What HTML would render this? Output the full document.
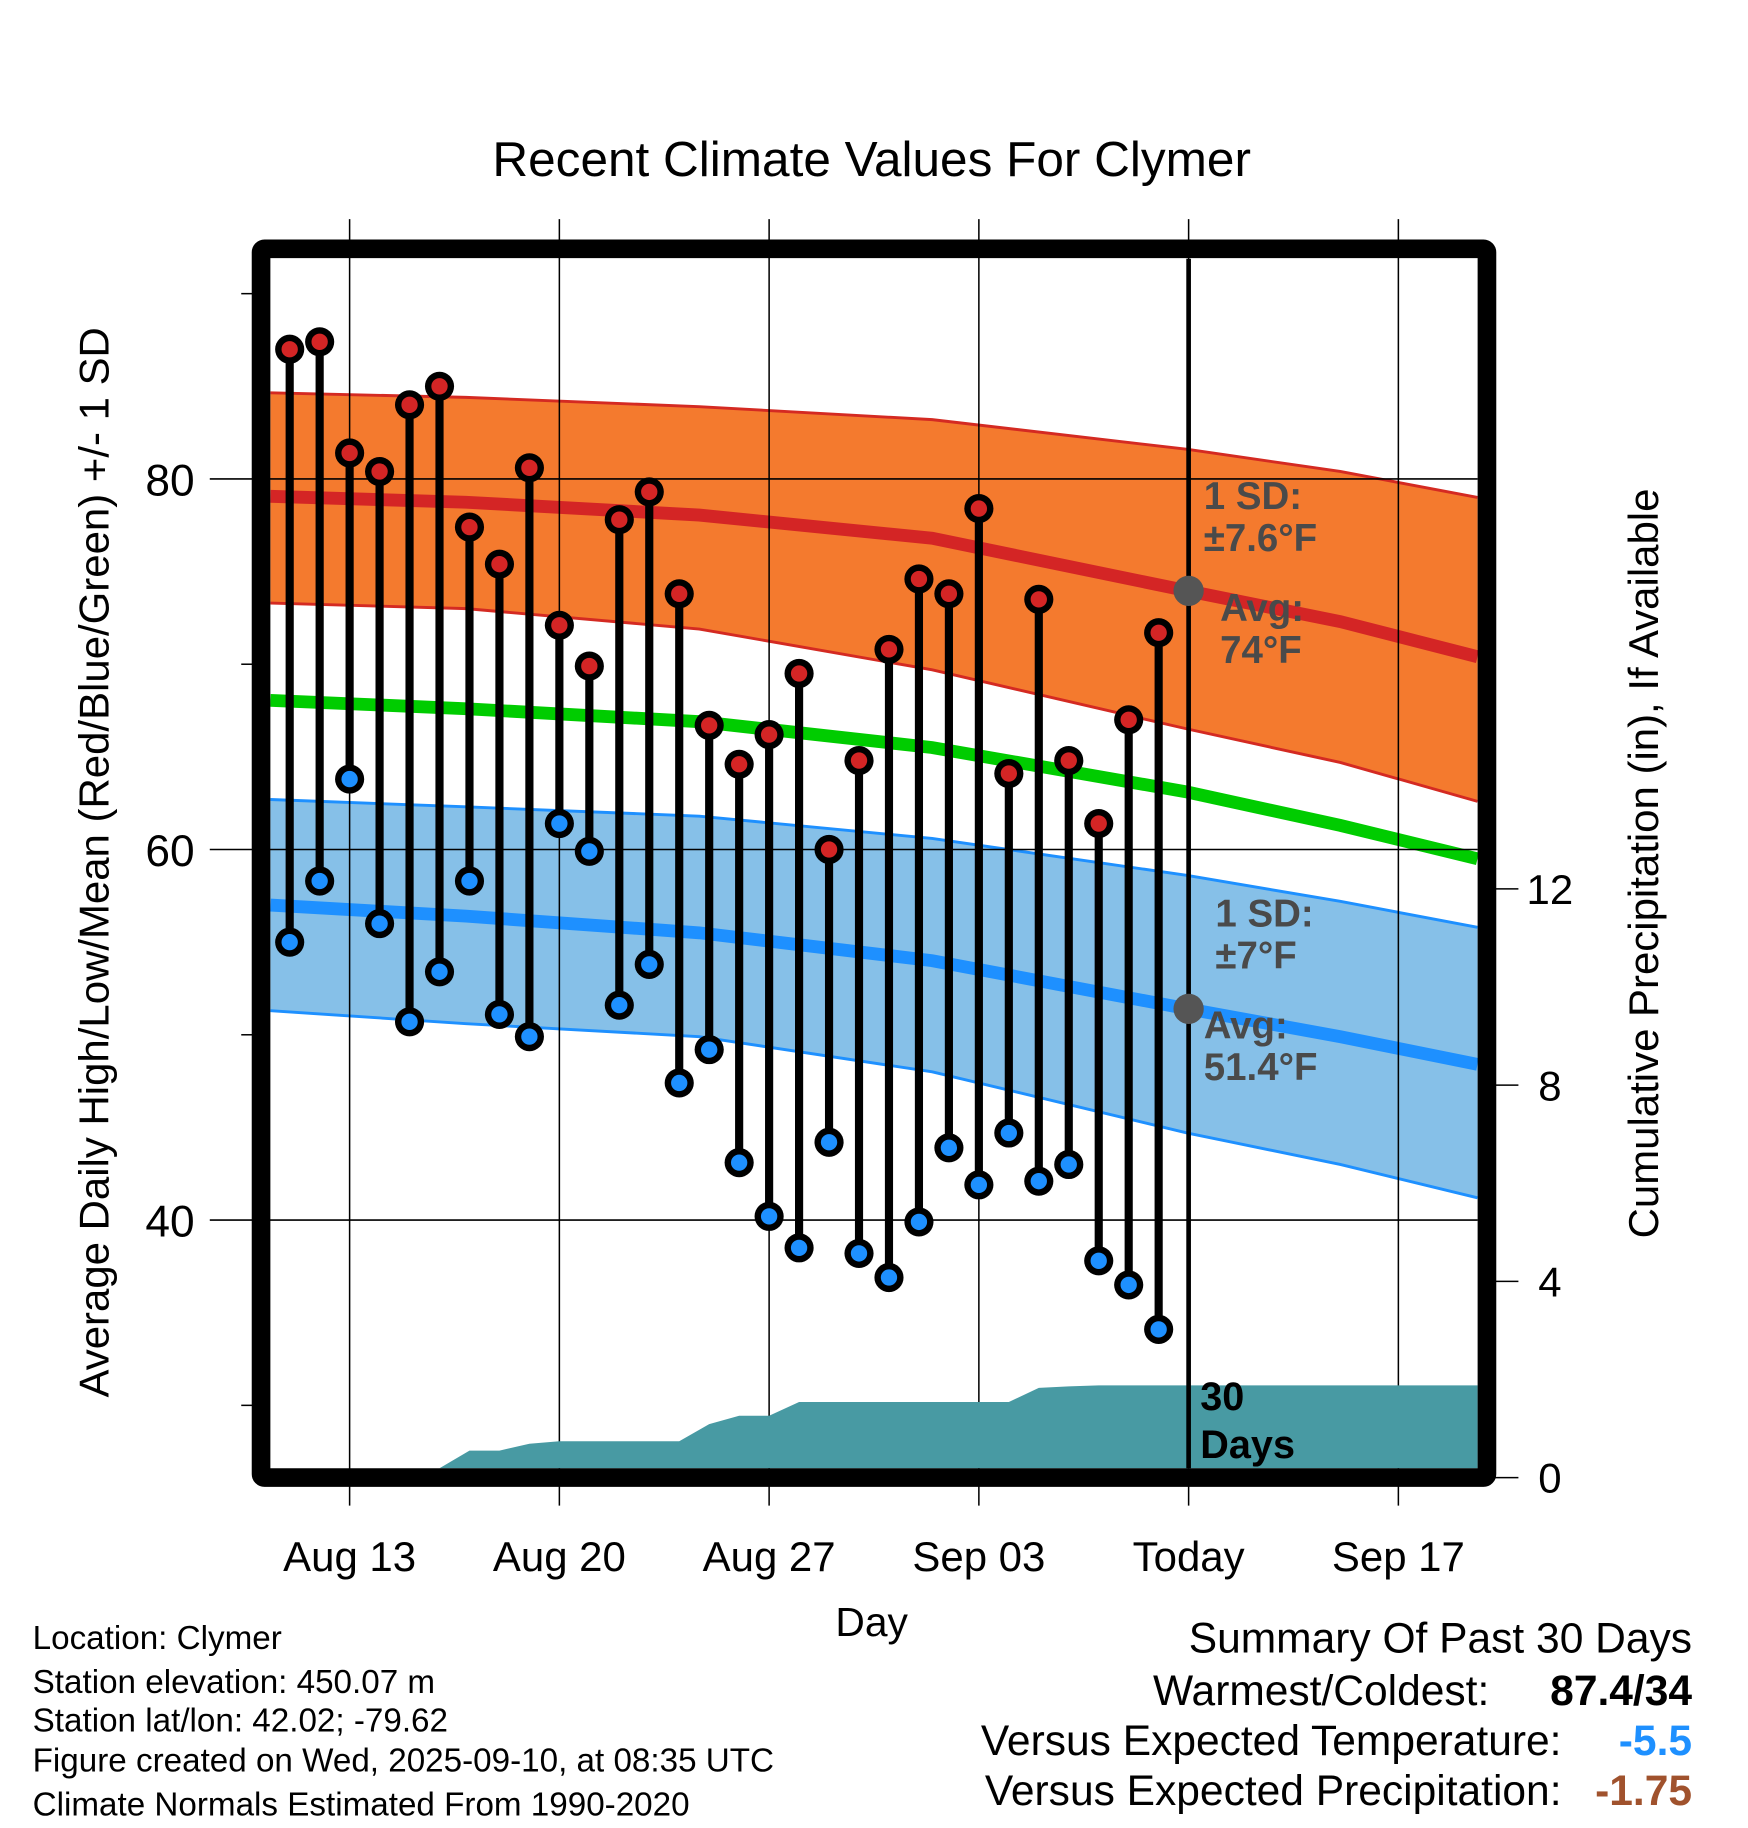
<!DOCTYPE html>
<html><head><meta charset="utf-8"><style>
html,body{margin:0;padding:0;background:#fff;}
svg{display:block;font-family:"Liberation Sans",sans-serif;}
</style></head><body>
<svg id="chart" width="1748" height="1828" viewBox="0 0 1500 1568.7" xmlns="http://www.w3.org/2000/svg">
<text x="748" y="151" font-size="42.5" text-anchor="middle">Recent Climate Values For Clymer</text>
<g id="plot"></g>
<text transform="translate(93,740) rotate(-90)" font-size="36" text-anchor="middle">Average Daily High/Low/Mean (Red/Blue/Green) +/- 1 SD</text>
<text transform="translate(1423,741) rotate(-90)" font-size="36" text-anchor="middle">Cumulative Precipitation (in), If Available</text>
<text x="748" y="1404" font-size="35" text-anchor="middle">Day</text>
<g font-size="28.5">
<text x="28" y="1415">Location: Clymer</text>
<text x="28" y="1453">Station elevation: 450.07 m</text>
<text x="28" y="1486">Station lat/lon: 42.02; -79.62</text>
<text x="28" y="1520">Figure created on Wed, 2025-09-10, at 08:35 UTC</text>
<text x="28" y="1558">Climate Normals Estimated From 1990-2020</text>
</g>
<g font-size="36.5">
<text x="1452" y="1418" text-anchor="end">Summary Of Past 30 Days</text>
<text x="1278" y="1463" text-anchor="end">Warmest/Coldest:</text>
<text x="1452" y="1463" text-anchor="end" font-weight="bold">87.4/34</text>
<text x="1340" y="1506" text-anchor="end">Versus Expected Temperature:</text>
<text x="1452" y="1506" text-anchor="end" font-weight="bold" fill="#1e90ff">-5.5</text>
<text x="1340" y="1549" text-anchor="end">Versus Expected Precipitation:</text>
<text x="1452" y="1549" text-anchor="end" font-weight="bold" fill="#a0522d">-1.75</text>
</g>
</svg>
<script>
const highs=[87.0,87.4,81.4,80.4,84.0,85.0,77.4,75.4,80.6,72.1,69.9,77.8,79.3,73.8,66.7,64.6,66.2,69.5,60.0,64.8,70.8,74.6,73.8,78.4,64.1,73.5,64.8,61.4,67.0,71.7];
const lows=[55.0,58.3,63.8,56.0,50.7,53.4,58.3,51.1,49.9,61.4,59.9,51.6,53.8,47.4,49.2,43.1,40.2,38.5,44.2,38.2,36.9,39.9,43.9,41.9,44.7,42.1,43.0,37.8,36.5,34.1];
const precip=[0,0,0,0,0,0,0.55,0.55,0.69,0.74,0.74,0.74,0.74,0.74,1.09,1.26,1.26,1.54,1.54,1.54,1.54,1.54,1.54,1.54,1.54,1.83,1.86,1.88,1.88,1.88];
const normDays=[-2.64,3.89,11.67,19.44,27.96,33.06,37.64];
const avgHigh=[79.06,78.74,78.05,76.8,73.96,72.3,70.4];
const highUpper=[84.65,84.4,83.9,83.2,81.6,80.4,79.0];
const highLower=[73.3,73.0,71.9,69.7,66.5,64.7,62.6];
const meanT=[68.05,67.6,66.9,65.5,63.1,61.3,59.5];
const avgLow=[57.0,56.4,55.5,54.0,51.4,49.9,48.4];
const lowUpper=[62.7,62.3,61.8,60.6,58.6,57.2,55.8];
const lowLower=[51.3,50.6,49.9,48.0,44.7,43.0,41.2];
const xTickDays=[0,7,14,21,28,35];
const xTickLabels=["Aug 13","Aug 20","Aug 27","Sep 03","Today","Sep 17"];
const yTicks=[40,60,80];
const yMinor=[30,50,70,90];
const y2Ticks=[0,4,8,12];
const firstDay=-2, todayDay=28;
const L=232,R=1268,T=222,B=1260;
const x=d=>300+d*25.714;
const y=t=>411+(80-t)*15.9;
const y2=p=>1268-p*42.1;
const g=document.getElementById('plot');
const NS='http://www.w3.org/2000/svg';
function mk(tag,at){const e=document.createElementNS(NS,tag);for(const k in at)e.setAttribute(k,at[k]);g.appendChild(e);return e;}
function pts(a){return normDays.map((d,i)=>x(d).toFixed(1)+','+y(a[i]).toFixed(1));}
function band(up,lo,fill,stroke){
 const p=pts(up).concat(pts(lo).reverse()).join(' ');
 const e=mk('polygon',{points:p,fill:fill});
 
 
 [up,lo].forEach(a=>{const l=mk('polyline',{points:pts(a).join(' '),fill:'none',stroke:stroke,'stroke-width':2.5});
 
 });
}
band(highUpper,highLower,'#f47a2e','#d42a22');
band(lowUpper,lowLower,'#86c0e8','#1e90ff');
[[avgHigh,'#d42525','avg-high-line'],[meanT,'#00cc00','mean-line'],[avgLow,'#1e90ff','avg-low-line']].forEach(([a,c,n])=>{
 const l=mk('polyline',{points:pts(a).join(' '),fill:'none',stroke:c,'stroke-width':11});
 
 
});
xTickDays.forEach((d,i)=>{
 const gl=mk('line',{x1:x(d),x2:x(d),y1:188,y2:1292,stroke:'#000','stroke-width':1.3});
 
 
 const t=mk('text',{x:x(d),y:1348,'font-size':36,'text-anchor':'middle'});t.textContent=xTickLabels[i];
 
 
});
yTicks.forEach(v=>{
 const gl=mk('line',{x1:180,x2:R,y1:y(v),y2:y(v),stroke:'#000','stroke-width':1.3});
 
 
 const t=mk('text',{x:167,y:y(v)+14,'font-size':38,'text-anchor':'end'});t.textContent=v;
 
 
});
yMinor.forEach(v=>{
 const m=mk('line',{x1:207,x2:218,y1:y(v),y2:y(v),stroke:'#000','stroke-width':1.3});
 
 
});
y2Ticks.forEach(v=>{
 const m=mk('line',{x1:1283,x2:1303,y1:y2(v),y2:y2(v),stroke:'#000','stroke-width':1.3});
 
 
 const t=mk('text',{x:1330,y:y2(v)+13,'font-size':36,'text-anchor':'middle'});t.textContent=v;
 
 
});
let pp=[[L,B]];
precip.forEach((p,i)=>{const xx=x(firstDay+i);pp.push([xx,Math.min(B,y2(p))]);});
pp.push([R,Math.min(B,y2(precip[precip.length-1]))]);pp.push([R,B]);
const pa=mk('polygon',{points:pp.map(q=>q.join(',')).join(' '),fill:'#489aa3'});


const tl=mk('line',{x1:x(todayDay),x2:x(todayDay),y1:T,y2:B,stroke:'#000','stroke-width':4});


highs.forEach((h,i)=>{
 const xx=x(firstDay+i);
 const s=mk('line',{x1:xx,x2:xx,y1:y(h),y2:y(lows[i]),stroke:'#000','stroke-width':7});
 
 
 [[h,'#d42525','high-dot'],[lows[i],'#1e90ff','low-dot']].forEach(([v,c,n])=>{
  const o=mk('circle',{cx:xx,cy:y(v),r:12.5,fill:'#000'});
  
  
  const d=mk('circle',{cx:xx,cy:y(v),r:7,fill:c});
  
  
 });
});
[[avgHigh[4],'avg-high-marker'],[avgLow[4],'avg-low-marker']].forEach(([v,n])=>{
 const c=mk('circle',{cx:x(todayDay),cy:y(v),r:13,fill:'#555'});
 
 
});
function lbl(tx,xx,yy,n,sz,col){const t=mk('text',{x:xx,y:yy,'font-size':sz,'font-weight':'bold',fill:col});t.textContent=tx;
 
 }
lbl('1 SD:',1033,437,'high-sd-label',33,'#4a4a4a');
lbl('±7.6°F',1033,473,'high-sd-value',33,'#4a4a4a');
lbl('Avg:',1047,533,'high-avg-label',33,'#4a4a4a');
lbl('74°F',1047,569,'high-avg-value',33,'#4a4a4a');
lbl('1 SD:',1043,795,'low-sd-label',33,'#4a4a4a');
lbl('±7°F',1043,831,'low-sd-value',33,'#4a4a4a');
lbl('Avg:',1033,891,'low-avg-label',33,'#4a4a4a');
lbl('51.4°F',1033,927,'low-avg-value',33,'#4a4a4a');
lbl('30',1030,1210,'days-label',34,'#000');
lbl('Days',1030,1251,'days-label-2',34,'#000');
const bx=mk('rect',{x:224,y:213.5,width:1052,height:1054.5,fill:'none',stroke:'#000','stroke-width':16,rx:3});


</script>
</body></html>
